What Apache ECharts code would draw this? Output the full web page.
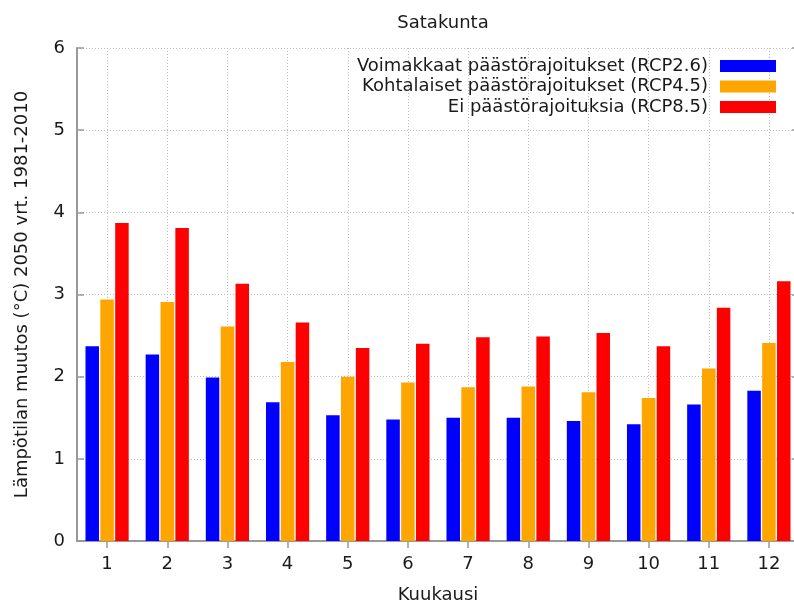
<!DOCTYPE html>
<html>
<head>
<meta charset="utf-8">
<script src="https://cdn.jsdelivr.net/npm/echarts@6/dist/echarts.min.js"></script>
<style>html,body{margin:0;padding:0;background:#fff}#c{width:794px;height:603px}</style>
</head>
<body>
<div id="c"></div>
<script>
const titleText = 'Satakunta';
const months = ['1','2','3','4','5','6','7','8','9','10','11','12'];
const seriesNames = ['Voimakkaat päästörajoitukset (RCP2.6)', 'Kohtalaiset päästörajoitukset (RCP4.5)', 'Ei päästörajoituksia (RCP8.5)'];
const rcp26 = [2.37, 2.27, 1.99, 1.69, 1.53, 1.48, 1.50, 1.50, 1.46, 1.42, 1.66, 1.83];
const rcp45 = [2.94, 2.91, 2.61, 2.18, 2.00, 1.93, 1.87, 1.88, 1.81, 1.74, 2.10, 2.41];
const rcp85 = [3.87, 3.81, 3.13, 2.66, 2.35, 2.40, 2.48, 2.49, 2.53, 2.37, 2.84, 3.16];
const yTicks = [0, 1, 2, 3, 4, 5, 6];
const xName = 'Kuukausi';
const yName = 'Lämpötilan muutos (°C) 2050 vrt. 1981-2010';
const colors = ['#0000ff', '#ffa500', '#ff0000'];

const FONT = 'DejaVu Sans';
const TXT = '#1a1a1a';
const AX = '#999999';

// half-step positions for the top mirror axis (ticks/grid at category centres)
const halfSteps = [];
halfSteps.push('');
months.forEach(m => { halfSteps.push(m); halfSteps.push(''); });

const chart = echarts.init(document.getElementById('c'), null, {renderer: 'canvas'});
const barCommon = {type: 'bar', barWidth: 13.5, barGap: '10%', xAxisIndex: 0, yAxisIndex: 0};
chart.setOption({
  animation: false,
  backgroundColor: '#ffffff',
  title: {
    text: titleText, left: 438, top: 9, textAlign: 'center',
    textStyle: {fontFamily: FONT, fontSize: 18, fontWeight: 'normal', color: TXT}
  },
  legend: {
    orient: 'vertical', right: 18, top: 57, padding: 0, itemGap: 2.5,
    align: 'right', itemWidth: 56, itemHeight: 12, icon: 'rect', selectedMode: false,
    textStyle: {fontFamily: FONT, fontSize: 18, color: TXT, padding: [0, 7, 0, 0]},
    data: seriesNames
  },
  grid: {left: 77, top: 48, bottom: 62, width: 722, containLabel: false, outerBoundsMode: 'none'},
  xAxis: [{
    type: 'category', data: months, position: 'bottom', boundaryGap: true,
    name: xName, nameLocation: 'middle', nameGap: 45,
    nameTextStyle: {fontFamily: FONT, fontSize: 18, color: TXT},
    axisLine: {show: true, lineStyle: {color: AX, width: 2}},
    axisTick: {show: false},
    axisLabel: {fontFamily: FONT, fontSize: 18, color: TXT, margin: 14},
    splitLine: {show: false}
  }, {
    type: 'category', data: halfSteps, position: 'top', boundaryGap: false,
    axisLine: {show: true, lineStyle: {color: AX, width: 2}},
    axisTick: {show: true, inside: true, length: 7, interval: (i) => i % 2 === 1, lineStyle: {color: AX, width: 1.5}},
    axisLabel: {show: false},
    splitLine: {show: true, interval: (i) => i % 2 === 1, lineStyle: {color: '#bbbbbb', width: 1, type: [1, 2]}}
  }],
  yAxis: [{
    type: 'value', min: yTicks[0], max: yTicks[yTicks.length - 1], interval: 1, position: 'left',
    name: yName, nameLocation: 'middle', nameGap: 46,
    nameTextStyle: {fontFamily: FONT, fontSize: 18, color: TXT},
    axisLine: {show: true, lineStyle: {color: AX, width: 2}},
    axisTick: {show: true, inside: true, length: 7, lineStyle: {color: AX, width: 1.5}},
    axisLabel: {fontFamily: FONT, fontSize: 18, color: TXT, margin: 12},
    splitLine: {show: true, lineStyle: {color: '#bbbbbb', width: 1, type: [1, 2]}}
  }, {
    type: 'value', min: yTicks[0], max: yTicks[yTicks.length - 1], interval: 1, position: 'right',
    axisLine: {show: true, lineStyle: {color: AX, width: 2}},
    axisTick: {show: true, inside: true, length: 7, lineStyle: {color: AX, width: 1.5}},
    axisLabel: {show: false},
    splitLine: {show: false}
  }],
  series: [
    Object.assign({}, barCommon, {name: seriesNames[0], data: rcp26, itemStyle: {color: colors[0]}}),
    Object.assign({}, barCommon, {name: seriesNames[1], data: rcp45, itemStyle: {color: colors[1]}}),
    Object.assign({}, barCommon, {name: seriesNames[2], data: rcp85, itemStyle: {color: colors[2]}})
  ]
});
</script>
</body>
</html>
